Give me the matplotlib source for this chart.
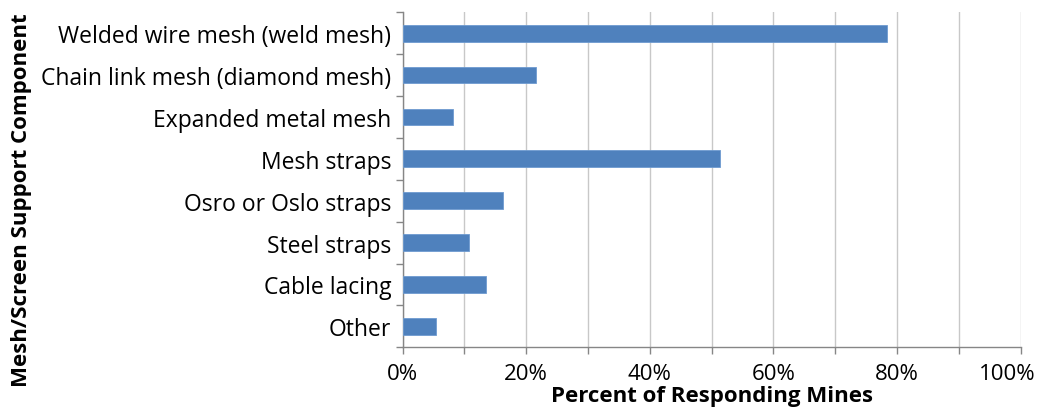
import matplotlib
matplotlib.use("Agg")
import matplotlib.pyplot as plt
import numpy as np
from matplotlib.ticker import FuncFormatter, MultipleLocator, FixedLocator
from matplotlib.transforms import ScaledTranslation

categories = [
    "Welded wire mesh (weld mesh)",
    "Chain link mesh (diamond mesh)",
    "Expanded metal mesh",
    "Mesh straps",
    "Osro or Oslo straps",
    "Steel straps",
    "Cable lacing",
    "Other",
]
percent = [78.4, 21.6, 8.1, 51.4, 16.2, 10.8, 13.5, 5.4]
x_ticks = [0, 20, 40, 60, 80, 100]
x_title = "Percent of Responding Mines"
y_title = "Mesh/Screen Support Component"

plt.rcParams["font.family"] = ["Open Sans", "DejaVu Sans"]

fig = plt.figure(figsize=(10.42, 4.10), dpi=100)
ax = fig.add_axes([402.5 / 1042, 1 - 348.3 / 410, 618 / 1042, 335 / 410])

n = len(categories)
pos = np.arange(n)
ax.barh(pos, percent, height=0.4, color="#4F81BD", edgecolor="#6E9BD0", linewidth=0.6, zorder=3)

ax.set_xlim(0, 100)
ax.set_ylim(n - 0.5, -0.5)

ax.xaxis.set_major_locator(FixedLocator(x_ticks))
ax.xaxis.set_minor_locator(MultipleLocator(10))
ax.xaxis.set_major_formatter(FuncFormatter(lambda v, p: f"{v:.0f}%"))
ax.grid(axis="x", which="both", color="#C8C8C8", linewidth=1.0, zorder=0)

ax.set_yticks(pos)
ax.set_yticklabels(categories)
ax.yaxis.set_minor_locator(FixedLocator(np.arange(-0.5, n, 1.0)))

ax.tick_params(axis="y", which="major", length=0, pad=8, labelsize=16.5)
ax.tick_params(axis="y", which="minor", length=5, color="#868686", width=1)
ax.tick_params(axis="x", which="both", length=5, color="#868686", width=1, labelsize=16, pad=6)

for s in ["top", "right"]:
    ax.spines[s].set_visible(False)
for s in ["left", "bottom"]:
    ax.spines[s].set_color("#868686")
    ax.spines[s].set_linewidth(1)

# keep the last percent label inside the figure edge
fig.canvas.draw()
last = ax.get_xticklabels()[-1]
last.set_transform(last.get_transform() + ScaledTranslation(-13 / 100, 0, fig.dpi_scale_trans))

fig.text(712 / 1042, 1 - 397 / 410, x_title, ha="center", va="center",
         fontsize=16, fontweight="bold")
fig.text(22 / 1042, 1 - 200 / 410, y_title, ha="center", va="center",
         rotation=90, fontsize=16, fontweight="bold")

fig.savefig("out.png", dpi=100, facecolor="white")
